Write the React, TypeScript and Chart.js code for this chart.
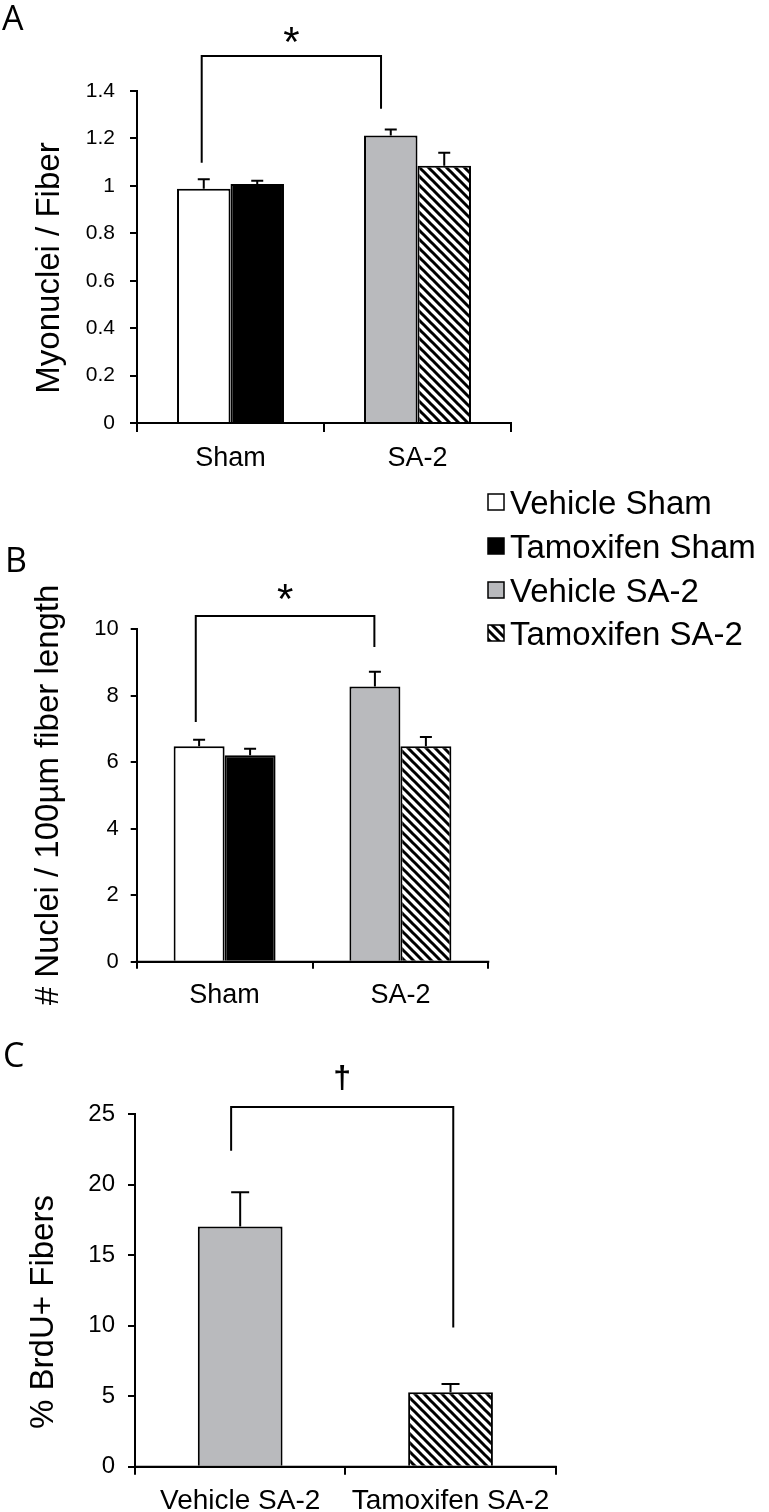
import React, { useEffect, useRef } from 'react';
import { Chart, registerables } from 'chart.js';

Chart.register(...registerables);

const FONT = '"Liberation Sans", Arial, Helvetica, sans-serif';
const LETTER_FONT = '"Open Sans", "Noto Sans", sans-serif';

// ---------- data ----------
const categoriesAB = ['Sham', 'SA-2'];
const seriesNames = ['Vehicle Sham', 'Tamoxifen Sham', 'Vehicle SA-2', 'Tamoxifen SA-2'];
const seriesCategory = [0, 0, 1, 1];
const myonucleiMean = [0.988, 1.008, 1.212, 1.085];
const myonucleiSem = [0.04, 0.014, 0.026, 0.055];
const nucleiMean = [6.48, 6.21, 8.28, 6.48];
const nucleiSem = [0.2, 0.2, 0.44, 0.28];
const categoriesC = ['Vehicle SA-2', 'Tamoxifen SA-2'];
const brduMean = [17.02, 5.28];
const brduSem = [2.44, 0.59];

const ticksA = [0, 0.2, 0.4, 0.6, 0.8, 1, 1.2, 1.4];
const tickLabelsA = ['0', '0.2', '0.4', '0.6', '0.8', '1', '1.2', '1.4'];
const ticksB = [0, 2, 4, 6, 8, 10];
const tickLabelsB = ['0', '2', '4', '6', '8', '10'];
const ticksC = [0, 5, 10, 15, 20, 25];
const tickLabelsC = ['0', '5', '10', '15', '20', '25'];

// significance brackets: [left foot, top, right foot]
const bracketA = [1.097, 1.548, 1.325];
const bracketB = [7.21, 10.4, 9.47];
const bracketC = [22.4, 25.5, 9.86];

const GRAY = '#b9babd';

function makeHatch(): CanvasPattern {
  const s = 9;
  const c = document.createElement('canvas');
  c.width = s;
  c.height = s;
  const g = c.getContext('2d')!;
  g.fillStyle = '#ffffff';
  g.fillRect(0, 0, s, s);
  g.strokeStyle = '#000000';
  g.lineWidth = 3;
  g.beginPath();
  for (const o of [-s, 0, s]) {
    g.moveTo(o - 2, -2);
    g.lineTo(o + s + 2, s + 2);
  }
  g.stroke();
  return g.createPattern(c, 'repeat')!;
}

function makeDeco(d: any) {
  return {
    id: 'deco' + d.letter,
    afterDatasetsDraw(chart: any) {
      const ctx = chart.ctx as CanvasRenderingContext2D;
      const xs = chart.scales.x;
      const ys = chart.scales.y;
      const area = chart.chartArea;
      ctx.save();
      ctx.strokeStyle = '#000';
      ctx.lineWidth = 2;
      // redraw x axis line over the bar bottoms
      ctx.beginPath();
      ctx.moveTo(area.left - 1, area.bottom);
      ctx.lineTo(area.right + 1, area.bottom);
      ctx.stroke();
      // error bars (upper only)
      chart.data.datasets.forEach((ds: any, di: number) => {
        const meta = chart.getDatasetMeta(di);
        const errs = d.errors[di];
        meta.data.forEach((el: any, i: number) => {
          const v = ds.data[i];
          if (v == null || errs[i] == null) return;
          const top = ys.getPixelForValue(v + errs[i]);
          ctx.beginPath();
          ctx.moveTo(el.x, el.y);
          ctx.lineTo(el.x, top);
          ctx.moveTo(el.x - d.cap, top);
          ctx.lineTo(el.x + d.cap, top);
          ctx.stroke();
        });
      });
      // bracket
      const b = d.bracket;
      const cw = xs.getPixelForValue(1) - xs.getPixelForValue(0);
      const xl = xs.getPixelForValue(b.cats[0]) + b.offs[0] * cw;
      const xr = xs.getPixelForValue(b.cats[1]) + b.offs[1] * cw;
      const yTop = ys.getPixelForValue(b.vals[1]);
      ctx.lineJoin = 'miter';
      ctx.beginPath();
      ctx.moveTo(xl, ys.getPixelForValue(b.vals[0]));
      ctx.lineTo(xl, yTop);
      ctx.lineTo(xr, yTop);
      ctx.lineTo(xr, ys.getPixelForValue(b.vals[2]));
      ctx.stroke();
      ctx.fillStyle = '#000';
      ctx.font = `${b.symWeight || 'normal'} ${b.symFont}px ${FONT}`;
      ctx.textAlign = 'center';
      ctx.textBaseline = 'alphabetic';
      const m = ctx.measureText(b.symbol);
      const cy = yTop - b.gap;
      ctx.fillText(b.symbol, (xl + xr) / 2, cy + (m.actualBoundingBoxAscent - m.actualBoundingBoxDescent) / 2);
      ctx.restore();
    },
    afterDraw(chart: any) {
      const ctx = chart.ctx as CanvasRenderingContext2D;
      ctx.save();
      ctx.fillStyle = '#000';
      // panel letter
      ctx.font = `${d.letterFont}px ${LETTER_FONT}`;
      ctx.textAlign = 'left';
      ctx.textBaseline = 'alphabetic';
      ctx.fillText(d.letter, d.letterPos[0], d.letterPos[1]);
      // y title
      ctx.save();
      ctx.translate(d.yTitlePos[0], d.yTitlePos[1]);
      ctx.rotate(-Math.PI / 2);
      ctx.font = `${d.yTitleFont}px ${FONT}`;
      ctx.textAlign = 'center';
      ctx.textBaseline = 'alphabetic';
      ctx.fillText(d.yTitle, 0, 0);
      ctx.restore();
      // legend
      if (d.legend) {
        const L = d.legend;
        ctx.font = `${L.font}px ${FONT}`;
        ctx.textAlign = 'left';
        ctx.textBaseline = 'alphabetic';
        chart.data.datasets.forEach((ds: any, i: number) => {
          const cy = L.ys[i];
          ctx.fillStyle = ds.backgroundColor;
          ctx.fillRect(L.x, cy - L.box / 2, L.box, L.box);
          ctx.strokeStyle = '#000';
          ctx.lineWidth = 1.5;
          ctx.strokeRect(L.x, cy - L.box / 2, L.box, L.box);
          ctx.fillStyle = '#000';
          ctx.fillText(ds.label, L.textX, cy + L.font * 0.716 / 2);
        });
      }
      ctx.restore();
    },
  };
}

function makeConfig(o: any) {
  return {
    type: 'bar',
    data: { labels: o.labels, datasets: o.datasets },
    options: {
      responsive: false,
      maintainAspectRatio: false,
      animation: false,
      devicePixelRatio: 1,
      layout: { padding: { top: o.area.top, left: 0, right: 769 - o.area.right, bottom: 0 } },
      plugins: { legend: { display: false }, tooltip: { enabled: false }, title: { display: false } },
      scales: {
        x: {
          type: 'category',
          offset: true,
          grid: {
            display: true,
            offset: true,
            drawOnChartArea: false,
            drawTicks: true,
            tickLength: o.xTickLen,
            color: '#000',
            lineWidth: 2,
          },
          border: { display: true, color: '#000', width: 2 },
          ticks: {
            color: '#000',
            font: { family: FONT, size: o.xFont },
            padding: o.xPad,
            maxRotation: 0,
            autoSkip: false,
          },
          afterFit: (s: any) => {
            s.height = o.height - o.area.bottom;
          },
        },
        y: {
          type: 'linear',
          min: o.ticks[0],
          max: o.ticks[o.ticks.length - 1],
          afterBuildTicks: (s: any) => {
            s.ticks = o.ticks.map((v: number) => ({ value: v }));
          },
          grid: {
            display: true,
            drawOnChartArea: false,
            drawTicks: true,
            tickLength: o.yTickLen,
            color: '#000',
            lineWidth: 2,
          },
          border: { display: true, color: '#000', width: 2 },
          ticks: {
            color: '#000',
            font: { family: FONT, size: o.yFont },
            padding: o.yPad,
            callback: (_v: any, i: number) => o.tickLabels[i],
          },
          afterFit: (s: any) => {
            s.width = o.area.left;
          },
        },
      },
    },
    plugins: [makeDeco(o.deco)],
  };
}

function groupedDatasets(means: number[], hatch: CanvasPattern, catPct: number) {
  const fills: any[] = ['#ffffff', '#000000', GRAY, hatch];
  return seriesNames.map((name, si) => ({
    label: name,
    data: categoriesAB.map((_, ci) => (ci === seriesCategory[si] ? means[si] : null)),
    backgroundColor: fills[si],
    borderColor: '#000',
    borderWidth: 2,
    borderSkipped: 'start',
    skipNull: true,
    barPercentage: 1,
    categoryPercentage: catPct,
  }));
}

function groupedErrors(sems: number[]) {
  return seriesNames.map((_, si) => categoriesAB.map((_, ci) => (ci === seriesCategory[si] ? sems[si] : null)));
}

function configA() {
  const hatch = makeHatch();
  return makeConfig({
    labels: categoriesAB,
    datasets: groupedDatasets(myonucleiMean, hatch, 0.572),
    ticks: ticksA,
    tickLabels: tickLabelsA,
    height: 475,
    area: { left: 137, top: 91, right: 511, bottom: 423 },
    xTickLen: 9, xFont: 27, xPad: 10,
    yTickLen: 7, yFont: 21, yPad: 15,
    deco: {
      letter: 'A', letterFont: 34, letterPos: [2, 30],
      yTitle: 'Myonuclei / Fiber', yTitleFont: 33, yTitlePos: [59, 268],
      errors: groupedErrors(myonucleiSem), cap: 6,
      bracket: { cats: [0, 1], offs: [-0.154, -0.195], vals: bracketA, symbol: '*', symFont: 42, gap: 21 },
      legend: null,
    },
  });
}

function configB() {
  const hatch = makeHatch();
  return makeConfig({
    labels: categoriesAB,
    datasets: groupedDatasets(nucleiMean, hatch, 0.58),
    ticks: ticksB,
    tickLabels: tickLabelsB,
    height: 540,
    area: { left: 136.7, top: 154.3, right: 488.3, bottom: 486.7 },
    xTickLen: 7, xFont: 27, xPad: 11,
    yTickLen: 6, yFont: 22, yPad: 12,
    deco: {
      letter: 'B', letterFont: 34, letterPos: [5, 97],
      yTitle: '# Nuclei / 100µm fiber length', yTitleFont: 33, yTitlePos: [58, 320],
      errors: groupedErrors(nucleiSem), cap: 6,
      bracket: { cats: [0, 1], offs: [-0.164, -0.148], vals: bracketB, symbol: '*', symFont: 42, gap: 24 },
      legend: { x: 488, ys: [27, 71, 115, 158], box: 16, textX: 510, font: 33 },
    },
  });
}

function configC() {
  const hatch = makeHatch();
  return makeConfig({
    labels: categoriesC,
    datasets: [
      {
        label: '% BrdU+ Fibers',
        data: brduMean,
        backgroundColor: [GRAY, hatch],
        borderColor: '#000',
        borderWidth: 2,
        borderSkipped: 'start',
        barPercentage: 1,
        categoryPercentage: 0.403,
      },
    ],
    ticks: ticksC,
    tickLabels: tickLabelsC,
    height: 497,
    area: { left: 135, top: 99, right: 555.7, bottom: 451.7 },
    xTickLen: 8, xFont: 28, xPad: 10,
    yTickLen: 7, yFont: 24, yPad: 13,
    deco: {
      letter: 'C', letterFont: 34, letterPos: [3, 52],
      yTitle: '% BrdU+ Fibers', yTitleFont: 33, yTitlePos: [53, 297],
      errors: [brduSem], cap: 9,
      bracket: { cats: [0, 1], offs: [-0.043, 0.013], vals: bracketC, symbol: '†', symFont: 32, symWeight: 'bold', gap: 29 },
      legend: null,
    },
  });
}

function Panel({ top, height, make }: { top: number; height: number; make: () => any }) {
  const ref = useRef<HTMLCanvasElement>(null);
  useEffect(() => {
    const chart = new Chart(ref.current as HTMLCanvasElement, make());
    return () => chart.destroy();
  }, []);
  return (
    <canvas
      ref={ref}
      width={769}
      height={height}
      style={{ position: 'absolute', left: 0, top, width: 769, height, display: 'block' }}
    />
  );
}

export default function App() {
  return (
    <div style={{ position: 'absolute', left: 0, top: 0, width: 769, height: 1512, background: '#ffffff' }}>
      <Panel top={0} height={475} make={configA} />
      <Panel top={475} height={540} make={configB} />
      <Panel top={1015} height={497} make={configC} />
    </div>
  );
}
